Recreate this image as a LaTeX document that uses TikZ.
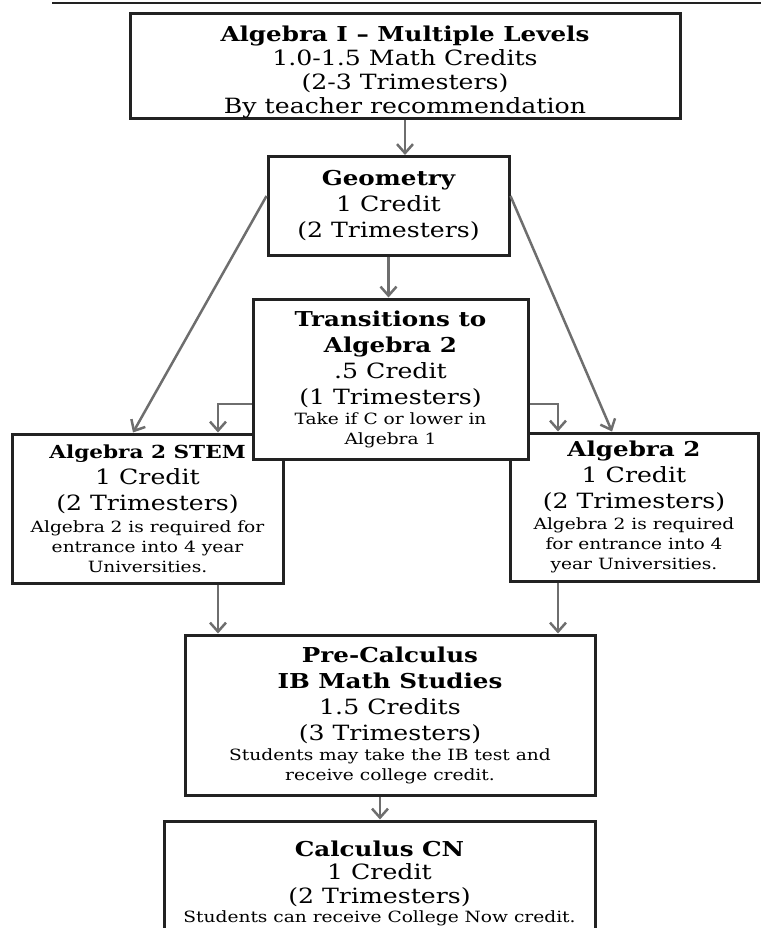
\documentclass[tikz,border=0pt]{standalone}
\usepackage{fontspec}
\setmainfont[FakeStretch=1.2]{DejaVu Serif}
\usetikzlibrary{arrows.meta}

\definecolor{boxline}{HTML}{222222}
\definecolor{arrowgray}{HTML}{6E6E6E}

\newcommand{\hd}{\fontsize{20.5}{25}\selectfont\bfseries}
\newcommand{\sm}{\fontsize{15.5}{18}\selectfont}

\tikzset{
  course/.style={draw=boxline, line width=3pt, fill=white, align=center,
    inner sep=0pt, font=\fontsize{21}{26}\selectfont},
  flow/.style={draw=arrowgray, line width=2.5pt,
    -{Straight Barb[length=9pt,width=16pt]}}
}

\begin{document}
\begin{tikzpicture}[x=1pt,y=-1pt]
\useasboundingbox (0,0) rectangle (761,928);

% Draw the title rule
\draw[line width=1.5pt, boxline] (52,3) -- (761,3);

% Draw the boxes
\node[course, minimum width=550pt, minimum height=104pt] (alg1) at (405,66)
  {\rule{0pt}{28pt}{\hd Algebra I -- Multiple Levels}\\[-2pt] 1.0-1.5 Math Credits\\[-2pt] (2-3 Trimesters)\\[-2pt] By teacher recommendation};
\node[course, minimum width=241pt, minimum height=99pt] (geo) at (388.5,206)
  {{\hd Geometry}\\ 1 Credit\\ (2 Trimesters)};
\node[course, minimum width=271pt, minimum height=149pt] (stem) at (147.5,508.5)
  {{\fontsize{18}{25}\selectfont\bfseries Algebra 2 STEM}\\ 1 Credit\\ (2 Trimesters)\\[-4pt] {\sm Algebra 2 is required for}\\[-6pt] {\sm entrance into 4 year}\\[-6pt] {\sm Universities.}};
\node[course, minimum width=248pt, minimum height=148pt] (alg2) at (634,507)
  {{\hd Algebra 2}\\ 1 Credit\\ (2 Trimesters)\\[-5pt] {\sm Algebra 2 is required}\\[-6pt] {\sm for entrance into 4}\\[-6pt] {\sm year Universities.}};
\node[course, minimum width=275pt, minimum height=160pt] (trans) at (390.5,379)
  {{\hd Transitions to}\\ {\hd Algebra 2}\\ .5 Credit\\ (1 Trimesters)\\[-6pt] {\sm Take if C or lower in}\\[-6pt] {\sm Algebra 1}};
\node[course, minimum width=410pt, minimum height=160pt] (pre) at (390,715)
  {{\hd Pre-Calculus}\\ {\hd IB Math Studies}\\ 1.5 Credits\\ (3 Trimesters)\\[-6pt] {\sm Students may take the IB test and}\\[-6pt] {\sm receive college credit.}};
\node[course, minimum width=431pt, minimum height=124pt] (calc) at (379.5,883)
  {{\hd Calculus CN}\\[-3pt] 1 Credit\\[-2pt] (2 Trimesters)\\[-7pt] {\sm Students can receive College Now credit.}};

% Draw the arrows
\draw[flow] (alg1.south) -- (alg1.south |- geo.north);
\draw[flow] (geo.south) -- (geo.south |- trans.north);
\draw[flow] ([yshift=10pt]geo.west) -- ([xshift=-14.5pt]stem.north);
\draw[flow] ([yshift=10pt]geo.east) -- ([xshift=-22pt]alg2.north);
\draw[flow] ([yshift=-25pt]trans.west) -| ([xshift=70.5pt]stem.north);
\draw[flow] ([yshift=-25pt]trans.east) -| ([xshift=-76pt]alg2.north);
\draw[flow] ([xshift=70.5pt]stem.south) -- ([xshift=70.5pt]stem.south |- pre.north);
\draw[flow] ([xshift=-76pt]alg2.south) -- ([xshift=-76pt]alg2.south |- pre.north);
\draw[flow] ([xshift=-10pt]pre.south) -- ([xshift=-10pt]pre.south |- calc.north);

\end{tikzpicture}
\end{document}
